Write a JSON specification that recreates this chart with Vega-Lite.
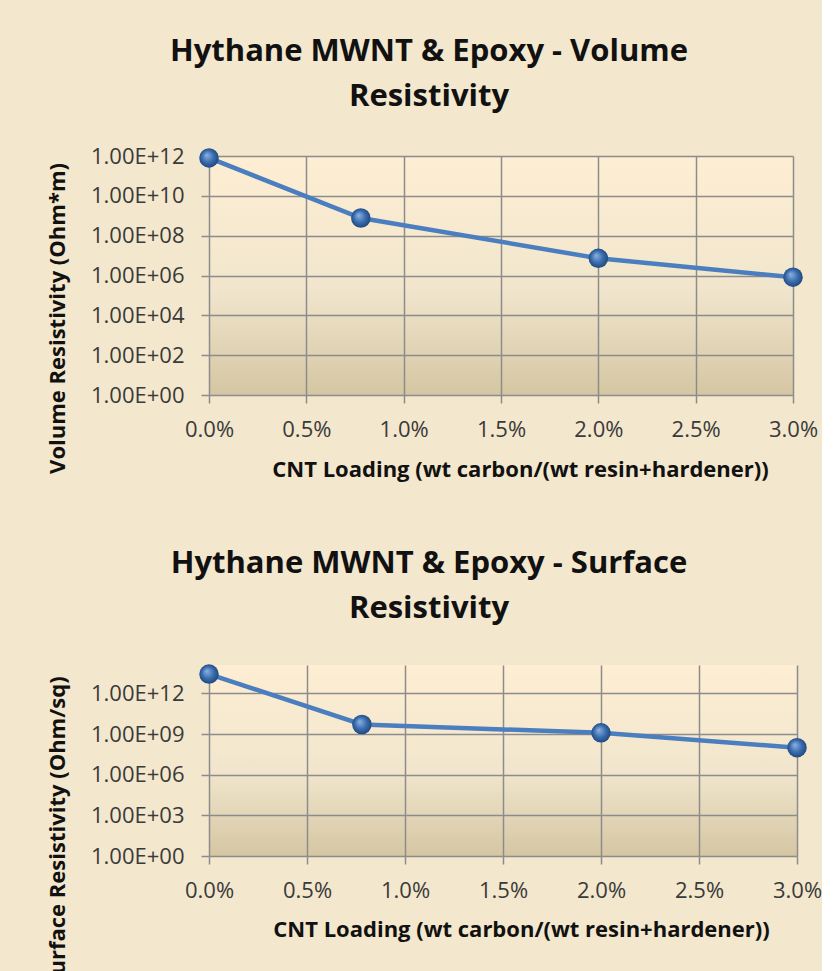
{
  "$schema": "https://vega.github.io/schema/vega-lite/v6.json",
  "background": "#F3E7CD",
  "padding": {"left": 46, "top": 36, "right": 0, "bottom": 0},
  "spacing": 68,
  "config": {
    "font": "Open Sans",
    "view": {"stroke": null},
    "axis": {
      "labelFont": "Open Sans", "labelFontSize": 22, "labelColor": "#3A3A3A",
      "titleFont": "Open Sans", "titleFontSize": 22, "titleFontWeight": "bold", "titleColor": "#111111",
      "gridColor": "#8C8C8C", "gridWidth": 1.5, "gridOpacity": 1,
      "domainColor": "#8C8C8C", "domainWidth": 1.5,
      "tickColor": "#8C8C8C", "tickWidth": 1.5, "tickSize": 8
    },
    "title": {"font": "Open Sans", "fontSize": 31, "fontWeight": "bold", "color": "#111111", "lineHeight": 45, "anchor": "middle"}
  },
  "vconcat": [
    {
      "title": {"text": ["Hythane MWNT & Epoxy - Volume", "Resistivity"], "dx": -72, "offset": 32},
      "width": 584,
      "height": 239,
      "view": {"fill": {"gradient": "linear", "x1": 0, "y1": 0, "x2": 0, "y2": 1, "stops": [{"offset": 0, "color": "#FEEED3"}, {"offset": 0.55, "color": "#F1E6CD"}, {"offset": 1, "color": "#D5C6A3"}]}},
      "data": {"values": [
        {"loading": 0.0, "resistivity": 8.0e11},
        {"loading": 0.0078, "resistivity": 7.7e8},
        {"loading": 0.02, "resistivity": 7.3e6},
        {"loading": 0.03, "resistivity": 8.2e5}
      ]},
      "encoding": {
        "x": {"field": "loading", "type": "quantitative",
          "scale": {"domain": [0, 0.03], "nice": false, "zero": false},
          "axis": {"values": [0, 0.005, 0.01, 0.015, 0.02, 0.025, 0.03], "format": ".1%", "labelPadding": 16, "titlePadding": 19, "domain": false, "labelFlush": false,
                   "title": "CNT Loading (wt carbon/(wt resin+hardener))", "titleX": 311}},
        "y": {"field": "resistivity", "type": "quantitative",
          "scale": {"type": "log", "domain": [1, 1e12], "nice": false},
          "axis": {"values": [1, 1e2, 1e4, 1e6, 1e8, 1e10, 1e12], "labelExpr": "'1.00E+' + (round(log(datum.value)/LN10) < 10 ? '0' : '') + round(log(datum.value)/LN10)",
                   "labelPadding": 17, "titlePadding": 21, "domain": false, "title": "Volume Resistivity (Ohm*m)", "titleY": 162}}
      },
      "layer": [
        {"mark": {"type": "line", "color": "#4A7EBF", "strokeWidth": 4.5}},
        {"mark": {"type": "point", "filled": true, "opacity": 1, "size": 380, "shape": "circle",
                  "fill": {"gradient": "radial", "x1": 0.38, "y1": 0.35, "r1": 0, "x2": 0.5, "y2": 0.5, "r2": 0.55,
                           "stops": [{"offset": 0, "color": "#8DB3E2"}, {"offset": 0.55, "color": "#3A6DAE"}, {"offset": 1, "color": "#1B4277"}]}}}
      ]
    },
    {
      "title": {"text": ["Hythane MWNT & Epoxy - Surface", "Resistivity"], "dx": -74, "offset": 39},
      "width": 588,
      "height": 191,
      "view": {"fill": {"gradient": "linear", "x1": 0, "y1": 0, "x2": 0, "y2": 1, "stops": [{"offset": 0, "color": "#FEEED3"}, {"offset": 0.55, "color": "#F1E6CD"}, {"offset": 1, "color": "#D5C6A3"}]}},
      "data": {"values": [
        {"loading": 0.0, "resistivity": 2.7e13},
        {"loading": 0.0078, "resistivity": 5.1e9},
        {"loading": 0.02, "resistivity": 1.25e9},
        {"loading": 0.03, "resistivity": 1.0e8}
      ]},
      "encoding": {
        "x": {"field": "loading", "type": "quantitative",
          "scale": {"domain": [0, 0.03], "nice": false, "zero": false},
          "axis": {"values": [0, 0.005, 0.01, 0.015, 0.02, 0.025, 0.03], "format": ".1%", "labelPadding": 16, "titlePadding": 18, "domain": false, "labelFlush": false,
                   "title": "CNT Loading (wt carbon/(wt resin+hardener))", "titleX": 312}},
        "y": {"field": "resistivity", "type": "quantitative",
          "scale": {"type": "log", "domain": [1, 1.26e14], "nice": false},
          "axis": {"values": [1, 1e3, 1e6, 1e9, 1e12], "labelExpr": "'1.00E+' + (round(log(datum.value)/LN10) < 10 ? '0' : '') + round(log(datum.value)/LN10)",
                   "labelPadding": 17, "titlePadding": 21, "domain": false, "title": "Surface Resistivity (Ohm/sq)", "titleY": 166}}
      },
      "layer": [
        {"mark": {"type": "line", "color": "#4A7EBF", "strokeWidth": 4.5}},
        {"mark": {"type": "point", "filled": true, "opacity": 1, "size": 380, "shape": "circle",
                  "fill": {"gradient": "radial", "x1": 0.38, "y1": 0.35, "r1": 0, "x2": 0.5, "y2": 0.5, "r2": 0.55,
                           "stops": [{"offset": 0, "color": "#8DB3E2"}, {"offset": 0.55, "color": "#3A6DAE"}, {"offset": 1, "color": "#1B4277"}]}}}
      ]
    }
  ]
}
